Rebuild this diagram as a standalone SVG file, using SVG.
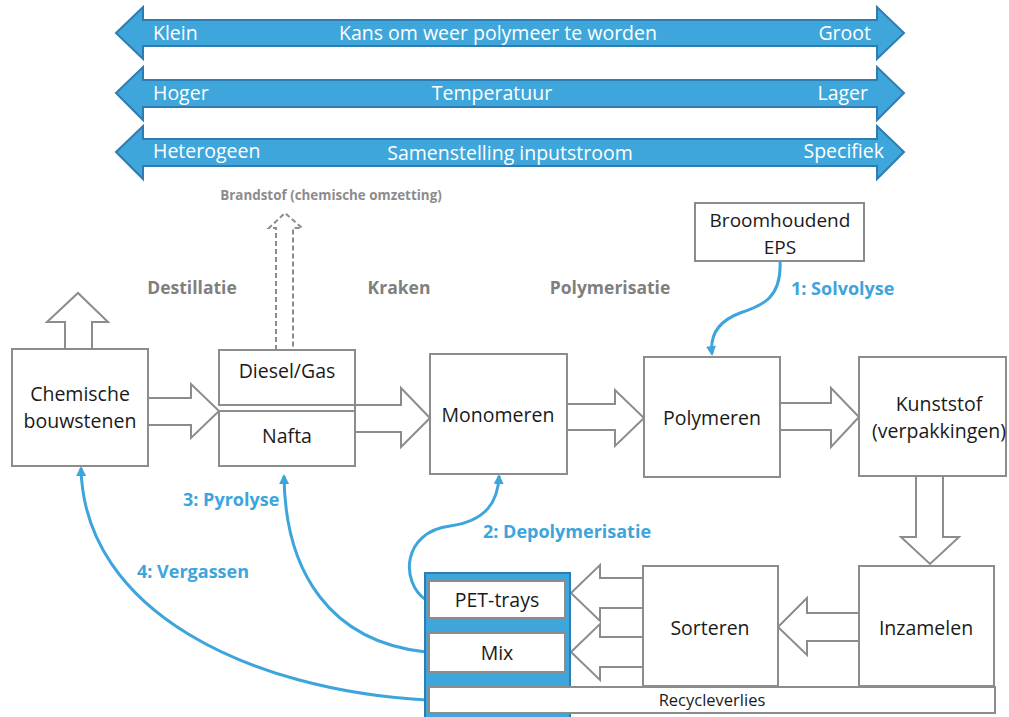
<svg xmlns="http://www.w3.org/2000/svg" width="1009" height="717" viewBox="0 0 1009 717">
  <defs>
    <style>
      .band { fill: #3EA6DA; stroke: #2E7DB2; stroke-width: 2; }
      .band-t { font-family: "Open Sans", "Liberation Sans", sans-serif; font-size: 19.5px; fill: #ffffff; }
      .box { fill: #ffffff; stroke: #8C8C8C; stroke-width: 2; }
      .blk { fill: #ffffff; stroke: #8C8C8C; stroke-width: 2; stroke-linejoin: miter; }
      .lbl { font-family: "Open Sans", "Liberation Sans", sans-serif; font-size: 19.5px; fill: #1a1a1a; text-anchor: middle; }
      .lbl-s { font-family: "Open Sans", "Liberation Sans", sans-serif; font-size: 16.5px; fill: #1a1a1a; text-anchor: middle; }
      .step { font-family: "Open Sans", "Liberation Sans", sans-serif; font-size: 17.5px; font-weight: bold; fill: #7F7F7F; }
      .route { font-family: "Open Sans", "Liberation Sans", sans-serif; font-size: 18px; font-weight: bold; fill: #3DA5DB; }
      .flow { fill: none; stroke: #3DA5DB; stroke-width: 3; }
    </style>
    <marker id="tip" viewBox="0 0 10 10" refX="8" refY="5" markerWidth="10" markerHeight="10" markerUnits="userSpaceOnUse" orient="auto">
      <path d="M0,0 L10,5 L0,10 Z" fill="#3DA5DB"/>
    </marker>
  </defs>

  <!-- scale bands -->
  <g id="band-kans">
    <polygon class="band" points="116,33 143,7 143,20 877,20 877,7 904,33 877,59 877,46 143,46 143,59"/>
    <text class="band-t" x="153" y="40">Klein</text>
    <text class="band-t" x="498" y="40" text-anchor="middle">Kans om weer polymeer te worden</text>
    <text class="band-t" x="871" y="40" text-anchor="end">Groot</text>
  </g>
  <g id="band-temperatuur">
    <polygon class="band" points="116,93 143,67 143,80 877,80 877,67 904,93 877,120 877,107 143,107 143,120"/>
    <text class="band-t" x="153" y="100">Hoger</text>
    <text class="band-t" x="492" y="100" text-anchor="middle">Temperatuur</text>
    <text class="band-t" x="868" y="100" text-anchor="end">Lager</text>
  </g>
  <g id="band-samenstelling">
    <polygon class="band" points="116,152 143,126 143,139 877,139 877,126 904,152 877,179 877,166 143,166 143,179"/>
    <text class="band-t" x="153" y="158">Heterogeen</text>
    <text class="band-t" x="510" y="160" text-anchor="middle">Samenstelling inputstroom</text>
    <text class="band-t" x="884" y="158" text-anchor="end">Specifiek</text>
  </g>

  <!-- step labels -->
  <text class="step" x="192" y="294" text-anchor="middle">Destillatie</text>
  <text class="step" x="399" y="294" text-anchor="middle">Kraken</text>
  <text class="step" x="610" y="294" text-anchor="middle">Polymerisatie</text>
  <text x="331" y="200" text-anchor="middle" font-family="Open Sans, Liberation Sans, sans-serif" font-size="13.4" font-weight="bold" fill="#8C8C8C">Brandstof (chemische omzetting)</text>

  <!-- connectors -->
  <g id="connectors">
    <path d="M276,350 L276,228 L269,228 L285,213 L302,228 L293,228 L293,350" fill="none" stroke="#8C8C8C" stroke-width="2" stroke-dasharray="5,3"/>
    <polygon class="blk" points="65,349 65,322 47,322 78,293 108,322 92,322 92,349"/>
    <polygon class="blk" points="148,398 191,398 191,384 219,411 191,438 191,425 148,425"/>
    <polygon class="blk" points="355,405 401,405 401,388 430,418 401,447 401,432 355,432"/>
    <polygon class="blk" points="567,404 615,404 615,390 644,418 615,446 615,430 567,430"/>
    <polygon class="blk" points="780,403 831,403 831,388 859,417 831,447 831,430 780,430"/>
    <polygon class="blk" points="916,476 916,537 901,537 930,564 959,537 943,537 943,476"/>
    <polygon class="blk" points="859,613 807,613 807,598 778,627 807,655 807,641 859,641"/>
    <polygon class="blk" points="643,578 600,578 600,565 571,593 600,621 600,608 643,608"/>
    <polygon class="blk" points="643,637 600,637 600,624 571,652 600,680 600,667 643,667"/>

    <path class="flow" d="M780,261 C782,298 762,306 740,313 C716,322 710,338 712,354" marker-end="url(#tip)"/>
    <path class="flow" d="M426,600 C400,582 402,532 450,526 C486,521 498,502 499,476" marker-end="url(#tip)"/>
    <path class="flow" d="M426,652 C330,642 285,572 284,476" marker-end="url(#tip)"/>
    <path class="flow" d="M426,700 C250,690 84,612 81,468" marker-end="url(#tip)"/>
  </g>
  <text class="route" x="791" y="295">1: Solvolyse</text>
  <text class="route" x="483" y="538">2: Depolymerisatie</text>
  <text class="route" x="183" y="506">3: Pyrolyse</text>
  <text class="route" x="137" y="578">4: Vergassen</text>

  <!-- nodes -->
  <g id="chemische-bouwstenen">
    <rect class="box" x="12" y="349" width="136" height="117"/>
    <text class="lbl" x="80" y="401">Chemische</text>
    <text class="lbl" x="80" y="428">bouwstenen</text>
  </g>
  <g id="diesel-gas">
    <rect class="box" x="219" y="350" width="136" height="55"/>
    <text class="lbl" x="287" y="378">Diesel/Gas</text>
  </g>
  <g id="nafta">
    <rect class="box" x="219" y="411" width="136" height="55"/>
    <text class="lbl" x="287" y="443">Nafta</text>
  </g>
  <g id="monomeren">
    <rect class="box" x="430" y="354" width="137" height="120"/>
    <text class="lbl" x="498" y="422">Monomeren</text>
  </g>
  <g id="polymeren">
    <rect class="box" x="644" y="357" width="136" height="120"/>
    <text class="lbl" x="712" y="425">Polymeren</text>
  </g>
  <g id="kunststof">
    <rect class="box" x="859" y="357" width="147" height="119"/>
    <text class="lbl" x="939" y="411">Kunststof</text>
    <text class="lbl" x="939" y="438">(verpakkingen)</text>
  </g>
  <g id="broomhoudend-eps">
    <rect class="box" x="695" y="203" width="169" height="58"/>
    <text class="lbl" x="780" y="227" style="font-size:19px">Broomhoudend</text>
    <text class="lbl" x="780" y="254" style="font-size:19px">EPS</text>
  </g>
  <g id="inzamelen">
    <rect class="box" x="859" y="566" width="135" height="120"/>
    <text class="lbl" x="926" y="635">Inzamelen</text>
  </g>
  <g id="sorteren">
    <rect class="box" x="643" y="566" width="135" height="120"/>
    <text class="lbl" x="710" y="635">Sorteren</text>
  </g>
  <g id="stromen">
    <rect x="425" y="573" width="145" height="146" fill="#3EA6DA" stroke="#2E7DB2" stroke-width="2"/>
  </g>
  <g id="pet-trays">
    <rect class="box" x="429" y="581" width="136" height="37"/>
    <text class="lbl" x="497" y="607">PET-trays</text>
  </g>
  <g id="mix">
    <rect class="box" x="429" y="633" width="136" height="39"/>
    <text class="lbl" x="497" y="660">Mix</text>
  </g>
  <g id="recycleverlies">
    <rect class="box" x="429" y="687" width="566" height="26"/>
    <text class="lbl-s" x="712" y="706">Recycleverlies</text>
  </g>
</svg>
